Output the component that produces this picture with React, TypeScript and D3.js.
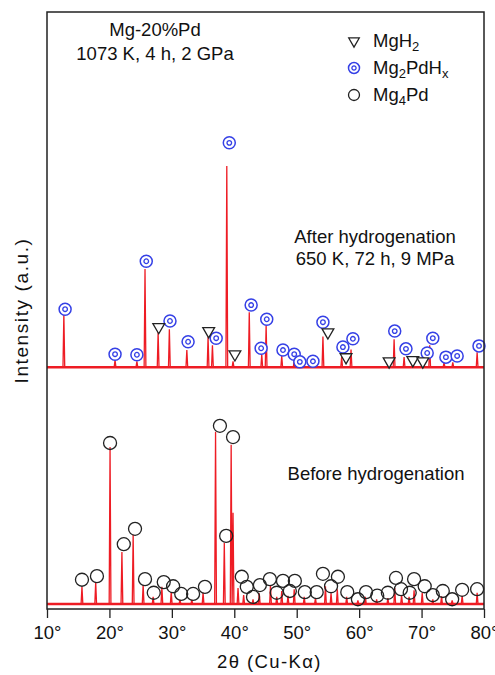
import React, { useEffect, useRef } from 'react';
import * as d3 from 'd3';

// 2θ ticks
const xTicks = [10, 20, 30, 40, 50, 60, 70, 80];

// after hydrogenation pattern: [2θ, intensity above its own baseline]
const afterPeaks: [number, number][] = [
  [12.7, 9.0], [20.9, 1.2], [24.4, 1.0], [25.7, 16.6], [27.8, 5.9], [29.6, 6.4],
  [32.4, 2.9], [35.8, 5.1], [36.5, 3.7], [38.8, 34.0], [39.8, 1.0], [42.4, 9.3],
  [44.4, 2.2], [45.1, 7.1], [47.6, 1.9], [49.6, 1.2], [50.5, 0.7], [52.6, 0.7],
  [54.2, 5.2], [57.2, 1.7], [58.7, 3.0], [64.8, 0.7], [65.6, 4.7], [67.2, 1.7],
  [68.6, 0.5], [70.2, 0.5], [71.3, 3.7], [73.6, 0.8], [75.0, 0.8], [78.9, 2.5],
];
const afterOffset = 40;

// before hydrogenation pattern
const beforePeaks: [number, number][] = [
  [15.6, 2.9], [17.8, 3.7], [20.1, 26.5], [22.0, 8.8], [23.8, 11.7], [25.4, 3.2],
  [27.0, 1.2], [28.4, 2.9], [29.9, 2.0], [31.3, 0.7], [33.2, 0.7], [35.0, 1.9],
  [37.0, 29.1], [38.4, 10.3], [39.5, 26.9], [39.8, 15.4], [40.6, 2.7], [41.5, 1.5],
  [43.0, 0.8], [44.0, 1.8], [45.8, 3.2], [46.8, 1.2], [47.6, 2.2], [48.6, 1.4],
  [49.6, 2.5], [51.2, 1.2], [53.0, 1.0], [54.6, 3.0], [55.5, 1.8], [56.5, 2.5],
  [58.0, 1.2], [59.8, 0.6], [61.0, 1.2], [62.8, 0.8], [64.6, 1.0], [65.7, 2.7],
  [66.8, 1.5], [68.0, 1.2], [68.8, 2.3], [70.1, 1.9], [71.8, 0.8], [73.2, 1.3],
  [74.9, 0.6], [76.5, 1.4], [78.9, 1.9],
];

// phase markers: [2θ, level]
const mgh2Marks: [number, number][] = [
  [27.9, 46.8], [35.9, 46.1], [40.1, 42.2], [55.0, 45.9], [57.9, 41.7],
  [64.8, 41.0], [68.6, 41.2], [70.2, 41.0],
];
const mg2pdhxMarks: [number, number][] = [
  [12.9, 49.8], [20.9, 42.2], [24.4, 42.1], [25.9, 57.9], [29.7, 47.8], [32.6, 44.3],
  [37.1, 44.9], [39.2, 77.9], [42.7, 50.5], [44.3, 43.2], [45.2, 48.1], [47.8, 42.9],
  [49.6, 42.2], [50.5, 40.9], [52.6, 41.0], [54.2, 47.6], [57.4, 43.4], [59.0, 44.8],
  [65.7, 46.1], [67.5, 43.1], [70.9, 42.4], [71.8, 44.9], [73.9, 41.7], [75.7, 41.9],
  [79.2, 43.6],
];
const mg4pdMarks: [number, number][] = [
  [15.6, 4.1], [18.0, 4.7], [20.1, 27.2], [22.3, 10.1], [24.1, 12.7], [25.7, 4.2],
  [27.1, 1.9], [28.7, 3.7], [30.2, 3.0], [31.5, 1.7], [33.4, 1.7], [35.3, 2.9],
  [37.7, 30.1], [38.7, 11.5], [39.8, 28.2], [41.2, 4.6], [42.0, 2.9], [43.0, 1.2],
  [44.1, 3.2], [45.7, 4.2], [46.8, 1.9], [47.8, 3.9], [48.9, 2.2], [49.7, 3.9],
  [51.3, 2.0], [53.2, 2.0], [54.2, 5.1], [55.5, 3.0], [56.6, 4.6], [58.1, 2.0],
  [59.8, 0.8], [61.1, 2.0], [62.9, 1.4], [64.6, 1.9], [65.9, 4.4], [66.7, 2.5],
  [68.1, 1.9], [68.8, 4.2], [70.5, 3.0], [71.8, 1.5], [73.4, 2.2], [74.9, 0.8],
  [76.5, 2.4], [78.9, 2.5],
];

const W = 495;
const H = 675;
const frame = { left: 47, right: 484, top: 12, bottom: 609 };
const font = '"Liberation Sans", Arial, sans-serif';
const red = '#ee1c24';
const blue = '#3540e6';
const fs = 18.5;

const x = d3.scaleLinear().domain([10, 80]).range([frame.left, frame.right]);
const y = d3.scaleLinear().domain([0, 100]).range([604, 12]);

const halfWidth = 0.14;

function patternPoints(peaks: [number, number][], offset: number): [number, number][] {
  const pts: [number, number][] = [[10, offset]];
  peaks.forEach(([t, h]) => {
    pts.push([t - halfWidth, offset], [t, offset + h], [t + halfWidth, offset]);
  });
  pts.push([80, offset]);
  return pts;
}

const line = d3.line<[number, number]>()
  .x(d => x(d[0]))
  .y(d => y(d[1]));

const triangle = d3.symbol().type(d3.symbolTriangle).size(60)();
const triangleSmall = d3.symbol().type(d3.symbolTriangle).size(48)();

const App = () => {
  const axisRef = useRef<SVGGElement>(null);

  useEffect(() => {
    const g = d3.select(axisRef.current);
    g.selectAll('*').remove();
    g.call(
      d3.axisBottom(x)
        .tickValues(xTicks)
        .tickSize(9)
        .tickPadding(8)
        .tickFormat(d => `${d}°`)
    );
    g.select('.domain').remove();
    g.selectAll('line').attr('stroke', '#222').attr('stroke-width', 1.3);
    g.selectAll('text')
      .attr('font-family', font)
      .attr('font-size', fs)
      .attr('fill', '#111');
  }, []);

  const textStyle = { fontFamily: font, fill: '#111' };

  return (
    <svg width={W} height={H} style={{ position: 'absolute', left: 0, top: 0, background: '#fff' }}>
      {/* patterns */}
      <path d={line(patternPoints(afterPeaks, afterOffset)) || ''} fill="none" stroke={red} strokeWidth={1.3} />
      <path d={line([[10, afterOffset], [80, afterOffset]]) || ''} fill="none" stroke={red} strokeWidth={2.4} />
      <path d={line(patternPoints(beforePeaks, 0)) || ''} fill="none" stroke={red} strokeWidth={1.3} />
      <path d={line([[10, 0], [80, 0]]) || ''} fill="none" stroke={red} strokeWidth={2.4} />

      {/* markers */}
      {mg4pdMarks.map(([t, l], i) => (
        <circle key={`c${i}`} cx={x(t)} cy={y(l)} r={6.5} fill="none" stroke="#222" strokeWidth={1.3} />
      ))}
      {mg2pdhxMarks.map(([t, l], i) => (
        <g key={`b${i}`} transform={`translate(${x(t)},${y(l)})`}>
          <circle r={6} fill="#fff" stroke={blue} strokeWidth={1.5} />
          <circle r={2.3} fill="none" stroke={blue} strokeWidth={1.3} />
        </g>
      ))}
      {mgh2Marks.map(([t, l], i) => (
        <path key={`t${i}`} d={triangle || ''} transform={`translate(${x(t)},${y(l)}) rotate(180)`}
          fill="#fff" stroke="#222" strokeWidth={1.3} />
      ))}

      {/* frame and axis */}
      <rect x={frame.left} y={frame.top} width={frame.right - frame.left} height={frame.bottom - frame.top}
        fill="none" stroke="#222" strokeWidth={1.5} />
      <g ref={axisRef} transform={`translate(0,${frame.bottom})`} />

      <text x={(frame.left + frame.right) / 2 + 4} y={668} textAnchor="middle" fontSize={18.5}
        letterSpacing={1.4} style={textStyle}>
        2θ (Cu-Kα)
      </text>
      <text transform={`translate(28,${(frame.top + frame.bottom) / 2}) rotate(-90)`} textAnchor="middle"
        fontSize={19} letterSpacing={1.6} style={textStyle}>
        Intensity (a.u.)
      </text>

      {/* annotations */}
      <text x={155} y={36} textAnchor="middle" fontSize={fs} style={textStyle}>Mg-20%Pd</text>
      <text x={155} y={60} textAnchor="middle" fontSize={fs} style={textStyle}>1073 K, 4 h, 2 GPa</text>
      <text x={375} y={243} textAnchor="middle" fontSize={fs} style={textStyle}>After hydrogenation</text>
      <text x={375} y={265} textAnchor="middle" fontSize={fs} style={textStyle}>650 K, 72 h, 9 MPa</text>
      <text x={376} y={480} textAnchor="middle" fontSize={fs} style={textStyle}>Before hydrogenation</text>

      {/* legend */}
      <path d={triangleSmall || ''} transform="translate(354,41) rotate(180)" fill="#fff" stroke="#222" strokeWidth={1.3} />
      <text x={373} y={47} fontSize={fs} style={textStyle}>
        MgH<tspan fontSize={13} dy={4}>2</tspan>
      </text>
      <g transform="translate(354,68)">
        <circle r={5.5} fill="#fff" stroke={blue} strokeWidth={1.5} />
        <circle r={2.1} fill="none" stroke={blue} strokeWidth={1.3} />
      </g>
      <text x={373} y={74} fontSize={fs} style={textStyle}>
        Mg<tspan fontSize={13} dy={4}>2</tspan><tspan dy={-4}>PdH</tspan><tspan fontSize={13} dy={4}>x</tspan>
      </text>
      <circle cx={354} cy={95} r={5.5} fill="none" stroke="#222" strokeWidth={1.3} />
      <text x={373} y={101} fontSize={fs} style={textStyle}>
        Mg<tspan fontSize={13} dy={4}>4</tspan><tspan dy={-4}>Pd</tspan>
      </text>
    </svg>
  );
};

export default App;
